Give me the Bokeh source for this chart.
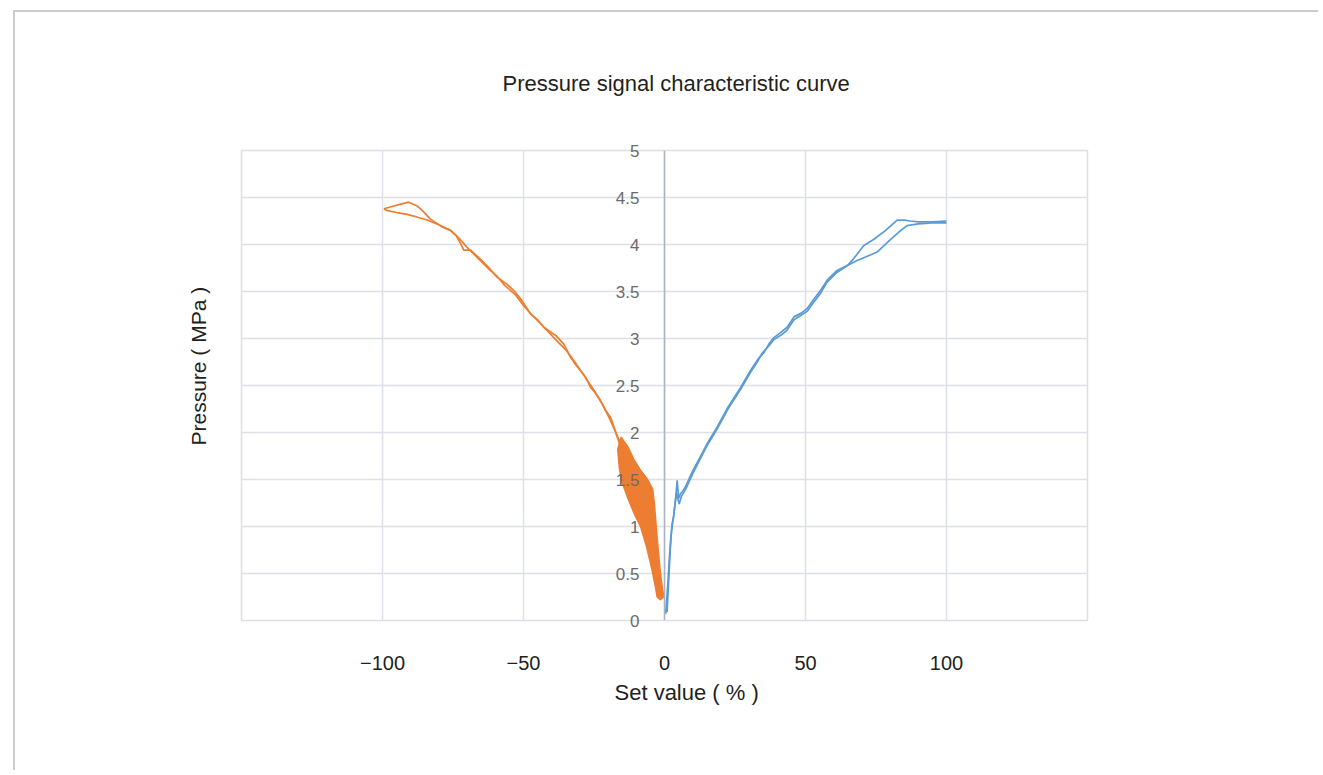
from bokeh.plotting import figure
from bokeh.models import FixedTicker, Span, Title, Range1d
from bokeh.embed import file_html
from bokeh.resources import INLINE

# ---------------- data ----------------
title_text = "Pressure signal characteristic curve"
x_label_text = "Set value ( % )"
y_label_text = "Pressure ( MPa )"

x_ticks = [-100, -50, 0, 50, 100]
x_tick_labels = ["\u2212100", "\u221250", "0", "50", "100"]
x_grid = [-150, -100, -50, 0, 50, 100, 150]
y_ticks = [0, 0.5, 1, 1.5, 2, 2.5, 3, 3.5, 4, 4.5, 5]
y_tick_labels = ["0", "0.5", "1", "1.5", "2", "2.5", "3", "3.5", "4", "4.5", "5"]

# positive set value (blue), rising trace
blue_up_x = [0.3, 0.9, 1.5, 2.2, 2.7, 3.2, 3.9, 4.5, 5.0, 5.7, 6.3, 7.4, 9.8, 12.5, 15.1, 18.7,
             22.5, 27.0, 30.5, 32.9, 35.5, 37.0, 38.8, 41.0, 43.5, 45.9, 48.5, 50.6, 53.0, 55.3,
             57.7, 61.0, 65.0, 67.1, 70.7, 74.0, 78.0, 81.0, 82.5, 85.0, 87.2, 90.0, 95.0, 100.0]
blue_up_y = [0.11, 0.09, 0.43, 0.85, 1.03, 1.10, 1.28, 1.49, 1.30, 1.35, 1.37, 1.42, 1.58, 1.73,
             1.88, 2.06, 2.27, 2.48, 2.66, 2.77, 2.86, 2.94, 3.01, 3.06, 3.12, 3.23, 3.27, 3.32,
             3.42, 3.51, 3.62, 3.72, 3.78, 3.85, 3.99, 4.05, 4.14, 4.22, 4.26, 4.26, 4.25, 4.24,
             4.24, 4.25]
# positive set value (blue), falling trace
blue_dn_x = [100.0, 95.0, 90.0, 86.0, 83.0, 80.0, 75.4, 71.5, 68.3, 65.0, 61.0, 57.7, 55.3, 52.5,
             50.6, 48.0, 45.9, 43.5, 41.5, 38.8, 37.0, 34.5, 32.9, 30.5, 27.0, 22.5, 18.7, 15.1,
             12.5, 9.8, 7.4, 6.0, 5.2, 4.2, 3.2, 2.5, 1.8, 1.2, 0.6, 0.4]
blue_dn_y = [4.23, 4.23, 4.22, 4.20, 4.13, 4.05, 3.92, 3.87, 3.83, 3.78, 3.70, 3.60, 3.48, 3.37,
             3.29, 3.24, 3.20, 3.09, 3.04, 2.99, 2.92, 2.84, 2.75, 2.64, 2.46, 2.25, 2.04, 1.86,
             1.71, 1.55, 1.39, 1.32, 1.24, 1.36, 1.10, 0.95, 0.70, 0.40, 0.15, 0.07]

# negative set value (orange), outgoing trace
orange_a_x = [-0.3, -1.4, -2.0, -3.2, -4.4, -6.1, -8.5, -10.9, -13.5, -15.6, -17.5, -19.1, -21.0,
              -22.7, -24.5, -26.2, -28.0, -29.8, -31.5, -33.3, -35.7, -38.5, -42.8, -45.0, -47.5,
              -50.5, -53.4, -56.0, -59.3, -62.5, -65.5, -68.8, -71.2, -72.3, -74.0, -75.9, -79.0,
              -83.0, -85.5, -87.7, -90.7, -93.5, -96.0, -99.5]
orange_a_y = [0.25, 0.25, 0.40, 0.65, 0.90, 1.05, 1.25, 1.38, 1.60, 1.85, 2.02, 2.16, 2.24, 2.34,
              2.42, 2.48, 2.59, 2.66, 2.72, 2.80, 2.94, 3.03, 3.12, 3.20, 3.26, 3.40, 3.51, 3.58,
              3.65, 3.76, 3.85, 3.94, 3.94, 4.01, 4.10, 4.15, 4.19, 4.27, 4.35, 4.41, 4.45, 4.43,
              4.41, 4.38]
# negative set value (orange), returning trace
orange_b_x = [-99.5, -98.3, -95.0, -91.2, -87.5, -84.2, -80.0, -75.9, -73.0, -70.0, -66.0, -62.0,
              -59.3, -56.5, -53.0, -50.0, -47.0, -44.0, -41.5, -38.0, -35.0, -32.5, -30.0, -27.5,
              -25.0, -22.0, -19.5, -17.0, -14.5, -12.0, -9.5, -7.0, -4.5, -2.5, -1.0, -0.3]
orange_b_y = [4.38, 4.36, 4.34, 4.32, 4.29, 4.26, 4.21, 4.15, 4.07, 3.97, 3.85, 3.73, 3.66, 3.56,
              3.47, 3.35, 3.25, 3.16, 3.08, 2.97, 2.88, 2.78, 2.67, 2.56, 2.45, 2.30, 2.15, 1.98,
              1.80, 1.62, 1.45, 1.22, 0.95, 0.65, 0.35, 0.25]
# dense noisy region of the orange curve near zero (outline of the band)
orange_band_x = [-15.4, -16.6, -16.0, -15.4, -13.0, -10.5, -8.5, -6.5, -4.5, -3.5, -2.6, -1.5,
                 -0.3, -1.0, -1.6, -2.2, -2.8, -3.2, -3.6, -4.2, -6.0, -8.5, -11.0, -13.0, -15.4]
orange_band_y = [1.95, 1.82, 1.62, 1.50, 1.30, 1.12, 1.00, 0.80, 0.55, 0.40, 0.25, 0.22,
                 0.25, 0.40, 0.55, 0.75, 0.95, 1.10, 1.25, 1.40, 1.50, 1.60, 1.72, 1.85, 1.95]

# ---------------- styles ----------------
BLUE = "#5B9BD5"
ORANGE = "#ED7D31"
GRID = "#dde0e7"
TEXT = "#231f20"
FONT = "Liberation Sans"

p = figure(width=1305, height=760, x_range=Range1d(-150, 150), y_range=Range1d(0, 5),
           output_backend="svg", toolbar_location=None,
           min_border_left=226, min_border_right=233, min_border_top=138, min_border_bottom=152)
p.styles = {"border-top": "2px solid #cccccc", "border-left": "2px solid #cccccc",
            "margin-top": "10px", "margin-left": "13px"}
p.background_fill_color = "white"
p.border_fill_color = "white"
p.outline_line_color = GRID
p.outline_line_width = 1.5

p.title.text = title_text
p.title.align = "left"
p.title.offset = 261
p.title.standoff = 110
p.title.text_font = FONT
p.title.text_font_size = "22px"
p.title.text_font_style = "normal"
p.title.text_color = TEXT

p.xaxis.ticker = FixedTicker(ticks=x_ticks)
p.xaxis.major_label_overrides = {t: l for t, l in zip(x_ticks, x_tick_labels)}
p.xaxis.axis_line_color = None
p.xaxis.major_tick_line_color = None
p.xaxis.minor_tick_line_color = None
p.xaxis.major_label_standoff = 29
p.xaxis.major_label_text_font = FONT
p.xaxis.major_label_text_font_size = "20px"
p.xaxis.major_label_text_color = TEXT
p.xgrid.ticker = FixedTicker(ticks=x_grid)
p.xgrid.grid_line_color = GRID
p.xgrid.grid_line_width = 1.5

# y tick labels are drawn next to the centre line (x = 0)
p.yaxis.ticker = FixedTicker(ticks=y_ticks)
p.yaxis.major_label_overrides = {t: l for t, l in zip(y_ticks, y_tick_labels)}
p.yaxis.axis_line_color = None
p.yaxis.major_tick_line_color = None
p.yaxis.minor_tick_line_color = None
p.yaxis.major_label_standoff = -404
p.yaxis.major_label_text_font = FONT
p.yaxis.major_label_text_font_size = "17px"
p.yaxis.major_label_text_color = "#6b6b6b"
p.ygrid.ticker = FixedTicker(ticks=y_ticks)
p.ygrid.grid_line_color = GRID
p.ygrid.grid_line_width = 1.5

# vertical axis through zero
p.add_layout(Span(location=0, dimension="height", line_color="#aab3c4", line_width=1.5))

# curves
p.patch(orange_band_x, orange_band_y, fill_color=ORANGE, line_color=ORANGE, line_width=1.5)
p.line(orange_a_x, orange_a_y, line_color=ORANGE, line_width=1.7)
p.line(orange_b_x, orange_b_y, line_color=ORANGE, line_width=1.7)
p.line(blue_up_x, blue_up_y, line_color=BLUE, line_width=1.7)
p.line(blue_dn_x, blue_dn_y, line_color=BLUE, line_width=1.7)

# axis titles
p.add_layout(Title(text=x_label_text, align="left", offset=373, standoff=11, text_font=FONT,
                   text_font_size="22px", text_font_style="normal", text_color=TEXT), "below")
p.add_layout(Title(text=y_label_text, align="left", offset=175, standoff=63, text_font=FONT,
                   text_font_size="21px", text_font_style="normal", text_color=TEXT), "left")

open("out.html", "w").write(file_html(p, INLINE))
